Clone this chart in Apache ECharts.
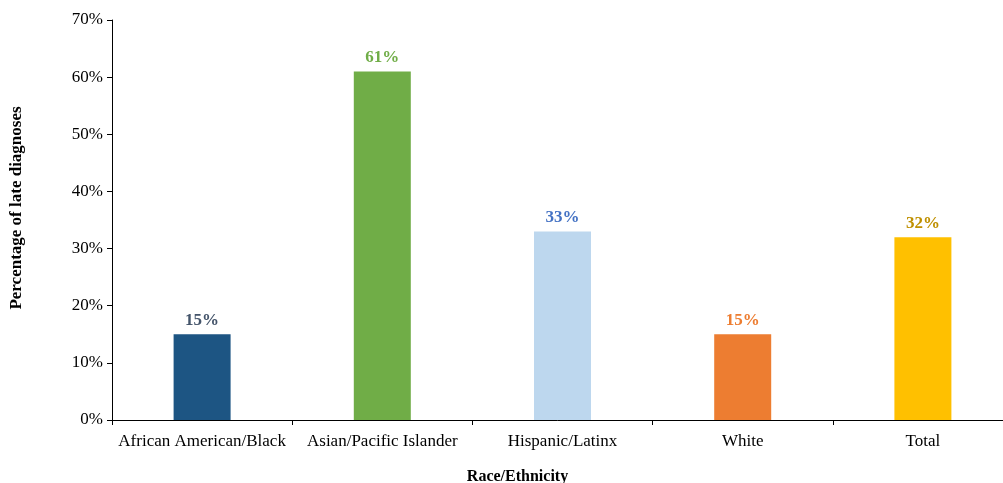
<!DOCTYPE html>
<html><head><meta charset="utf-8">
<script src="https://cdn.jsdelivr.net/npm/echarts@6/dist/echarts.min.js"></script>
<style>html,body{margin:0;padding:0;background:#fff}#c{width:1003px;height:483px}</style>
</head><body><div id="c"></div>
<script>
const categories = ["African American/Black","Asian/Pacific Islander","Hispanic/Latinx","White","Total"];
const values = [15, 61, 33, 15, 32];
const barColors = ["#1D5583","#70AD47","#BDD7EE","#ED7D31","#FFC000"];
const labelColors = ["#44546A","#70AD47","#4472C4","#ED7D31","#BF9000"];
const font = "'Liberation Serif','Times New Roman',serif";
const chart = echarts.init(document.getElementById('c'));
chart.setOption({
  animation:false,
  grid:{left:112,top:20,width:901,height:400,containLabel:false,outerBoundsMode:'none'},
  xAxis:{type:'category',data:categories,
    axisLine:{lineStyle:{color:'#000',width:1}},
    axisTick:{show:true,alignWithLabel:false,length:5,lineStyle:{color:'#000'}},
    axisLabel:{interval:0,color:'#000',fontFamily:font,fontSize:17,margin:13},
    name:'Race/Ethnicity',nameLocation:'middle',nameGap:49,
    nameTextStyle:{color:'#000',fontFamily:font,fontSize:16,fontWeight:'bold',padding:[0,90,0,0]}},
  yAxis:{type:'value',min:0,max:70,interval:10,
    axisLine:{show:true,lineStyle:{color:'#000',width:1}},
    axisTick:{show:true,length:5,lineStyle:{color:'#000'}},
    splitLine:{show:false},
    axisLabel:{color:'#000',fontFamily:font,fontSize:17,margin:9,formatter:v=>v+'%'},
    name:'Percentage of late diagnoses',nameLocation:'middle',nameGap:87,
    nameTextStyle:{color:'#000',fontFamily:font,fontSize:17,fontWeight:'bold',padding:[0,0,0,24]}},
  series:[{type:'bar',barWidth:57,
    data:values.map((v,i)=>({value:v,itemStyle:{color:barColors[i]},
      label:{color:labelColors[i]}})),
    label:{show:true,position:'top',distance:5,formatter:p=>p.value+'%',
      fontFamily:font,fontSize:17,fontWeight:'bold'}}]
});
</script></body></html>
